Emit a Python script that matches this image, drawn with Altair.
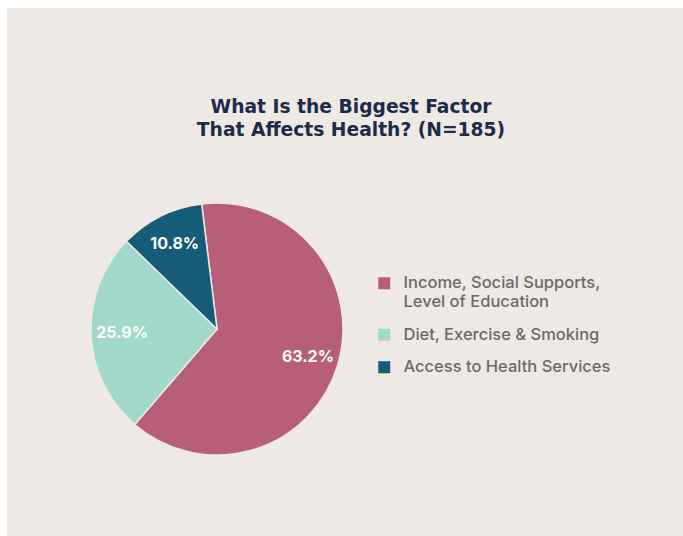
import altair as alt
import pandas as pd
import math

categories = [
    "Income, Social Supports, Level of Education",
    "Diet, Exercise & Smoking",
    "Access to Health Services",
]
values = [63.2, 25.9, 10.8]
colors = ["#b75e78", "#a3d9cb", "#155c79"]
order = [1, 2, 3]

df = pd.DataFrame({"category": categories, "value": values, "order": order})
df["label"] = [f"{v:.1f}%" for v in values]

start = math.radians(-7)
theta_scale = alt.Scale(range=[start, start + 2 * math.pi])
color_scale = alt.Scale(domain=categories, range=colors)

label_expr = (
    "datum.label == 'Income, Social Supports, Level of Education' ? "
    "['Income, Social Supports,', 'Level of Education'] : datum.label"
)

cx, cy = 210, 321

base = alt.Chart(df).encode(
    theta=alt.Theta("value:Q", stack=True, scale=theta_scale),
    order=alt.Order("order:Q"),
)

pie = base.mark_arc(outerRadius=126, stroke="#efe9e6", strokeWidth=1.5).encode(
    x=alt.value(cx),
    y=alt.value(cy),
    color=alt.Color(
        "category:N",
        scale=color_scale,
        sort=categories,
        legend=alt.Legend(
            title=None,
            orient="none",
            legendX=369,
            legendY=267,
            symbolType="square",
            symbolSize=144,
            symbolStrokeWidth=0,
            labelFont="Inter",
            labelFontSize=16.5,
            labelFontWeight=500,
            labelColor="#6d6968",
            labelLimit=400,
            labelOffset=11,
            rowPadding=15.5,
            padding=0,
            labelExpr=label_expr,
        ),
    ),
)

text = base.mark_text(
    radius=95,
    font="Inter",
    fontSize=16,
    fontWeight="bold",
    color="white",
).encode(
    x=alt.value(cx),
    y=alt.value(cy),
    text="label:N",
)

chart = (
    alt.layer(pie, text)
    .properties(
        width=676,
        height=528,
        autosize=alt.AutoSizeParams(type="none"),
        padding={"left": 7, "top": 8, "right": 0, "bottom": 0},
        background="white",
        title=alt.TitleParams(
            text=["What Is the Biggest Factor", "That Affects Health? (N=185)"],
            anchor="middle",
            frame="group",
            orient="top",
            baseline="top",
            offset=-132,
            dx=6,
            font="DejaVu Sans",
            fontSize=18.7,
            fontWeight="bold",
            color="#1c2b4a",
            lineHeight=23.5,
        ),
    )
    .configure_view(fill="#efe9e6", stroke=None)
)

chart.save("out.html", embed_options={"renderer": "svg", "actions": False})
